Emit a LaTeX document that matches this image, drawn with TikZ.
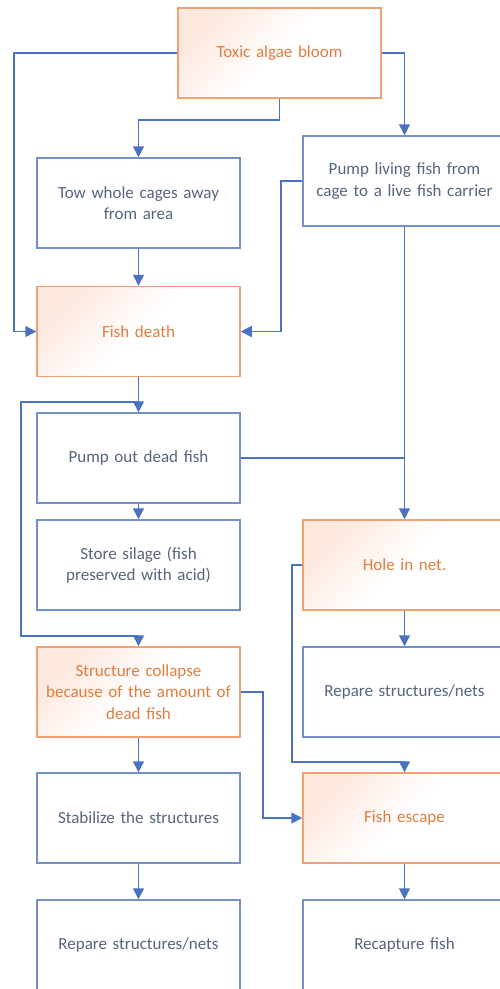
\documentclass[tikz,border=0pt]{standalone}
\usepackage{fontspec}
\setmainfont{Carlito}
\usetikzlibrary{arrows.meta}
\definecolor{bluebd}{HTML}{7391C8}
\definecolor{bluetx}{HTML}{55657F}
\definecolor{orbd}{HTML}{F0A274}
\definecolor{ortx}{HTML}{E27D40}
\definecolor{orfill}{HTML}{FDE8DE}
\definecolor{arrowc}{HTML}{4A72C0}
\tikzset{
  box/.style={draw=bluebd, line width=1.5pt, fill=white, minimum width=203pt, minimum height=90pt,
    inner sep=0pt, align=center, text width=200pt, text=bluetx, font=\fontsize{17}{21.5}\selectfont},
  obox/.style={box, draw=orbd, text=ortx, shading=axis, top color=orfill, bottom color=white, middle color=white, shading angle=45},
  arr/.style={draw=arrowc, line width=1.5pt, -{Triangle[width=11pt,length=11pt]}},
  ln/.style={draw=arrowc, line width=1.5pt}
}
\begin{document}
\begin{tikzpicture}[x=1pt,y=-1pt]
\clip (0,0) rectangle (500,989);
\fill[white] (0,0) rectangle (500,989);
\node[obox] (toxic) at (279.5,53) {Toxic algae bloom};
\node[box] (tow) at (138.5,203) {Tow whole cages away\\from area};
\node[box] (pumpliving) at (404.5,181) {Pump living fish from\\cage to a live fish carrier};
\node[obox] (death) at (138.5,331.5) {Fish death};
\node[box] (pumpout) at (138.5,458) {Pump out dead fish};
\node[box] (store) at (138.5,565) {Store silage (fish\\preserved with acid)};
\node[obox] (hole) at (404.5,565) {Hole in net.};
\node[obox] (collapse) at (138.5,692) {Structure collapse\\because of the amount of\\dead fish};
\node[box] (repare1) at (404.5,692) {Repare structures/nets};
\node[box] (stab) at (138.5,818) {Stabilize the structures};
\node[obox] (escape) at (404.5,818) {Fish escape};
\node[box] (repare2) at (138.5,945) {Repare structures/nets};
\node[box] (recapture) at (404.5,945) {Recapture fish};

\draw[arr] (toxic.west) -- (14,53) |- (death.west);
\draw[arr] (toxic.south) -- (279.5,120) -| (tow.north);
\draw[arr] (toxic.east) -| (pumpliving.north);
\draw[arr] (tow.south) -- (death.north);
\draw[arr] (pumpliving.west) -- (281,181) |- (death.east);
\draw[arr] (death.south) -- (pumpout.north);
\coordinate (j1) at (138.5,402);
\draw[arr] (j1) -- (21,402) -- (21,636) -| (collapse.north);
\draw[arr] (pumpliving.south) -- (hole.north);
\coordinate (j2) at (404.5,458);
\draw[ln] (pumpout.east) -- (j2);
\draw[arr] (pumpout.south) -- (store.north);
\draw[arr] (hole.south) -- (repare1.north);
\draw[arr] (hole.west) -- (292,565) |- (404.5,762) -- (escape.north);
\draw[arr] (collapse.east) -- (263,692) |- (escape.west);
\draw[arr] (collapse.south) -- (stab.north);
\draw[arr] (stab.south) -- (repare2.north);
\draw[arr] (escape.south) -- (recapture.north);
\end{tikzpicture}
\end{document}
